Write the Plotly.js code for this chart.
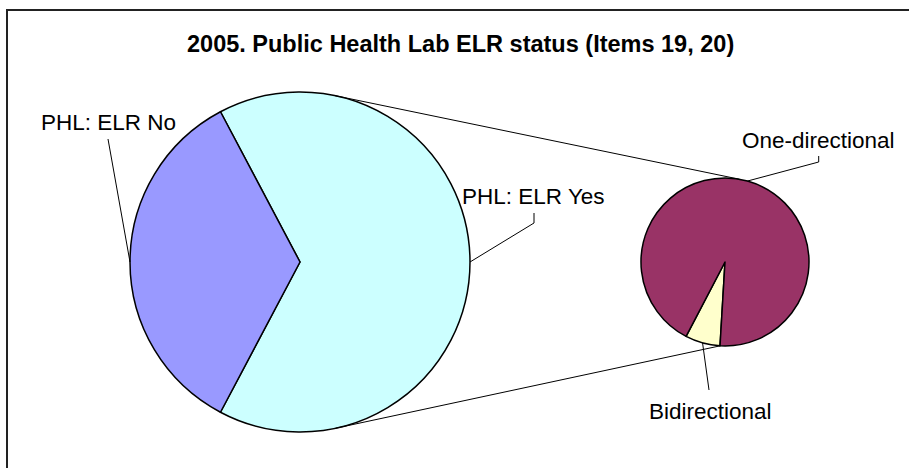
<!DOCTYPE html>
<html><head><meta charset="utf-8">
<script src="https://cdn.plot.ly/plotly-3.0.1.min.js"></script>
<style>html,body{margin:0;padding:0;background:#fff}#chart{width:909px;height:468px}</style>
</head><body><div id="chart"></div>
<script>
// ---- data ----
const chartTitle = '2005. Public Health Lab ELR status (Items 19, 20)';
const mainLabels = ['PHL: ELR Yes', 'PHL: ELR No'];
const mainValues = [65.5, 34.5];
const mainColors = ['#CCFFFF', '#9999FF'];
const subLabels = ['Bidirectional', 'One-directional'];
const subValues = [4.4, 61.1];
const subColors = ['#FFFFCC', '#993366'];

// ---- layout geometry ----
const W = 909, H = 468;
const mainPie = {cx: 300, cy: 262, r: 170};
const subPie = {cx: 725, cy: 262, r: 84};
const subRotation = 183.4;
const FONT = 'Arial, "Liberation Sans", sans-serif';

function px(x) { return x / W; }
function py(y) { return 1 - y / H; }
function domainOf(p) {
  return {x: [px(p.cx - p.r), px(p.cx + p.r)], y: [py(p.cy + p.r), py(p.cy - p.r)]};
}
function pointAt(p, deg) {
  const a = deg * Math.PI / 180;
  return [p.cx + p.r * Math.sin(a), p.cy - p.r * Math.cos(a)];
}
function tangentFrom(P, c, upper) {
  const dx = P[0] - c.cx, dy = P[1] - c.cy;
  const dist = Math.hypot(dx, dy);
  const base = Math.atan2(dy, dx);
  const off = Math.acos(c.r / dist);
  const a = upper ? base - off : base + off;
  return [c.cx + c.r * Math.cos(a), c.cy + c.r * Math.sin(a)];
}
function sum(a) { return a.reduce((s, v) => s + v, 0); }

const mainTotal = sum(mainValues);
const mainRotation = 90 - (mainValues[0] / mainTotal) * 180;
const subTotal = sum(subValues);

// mid angles of slices (clockwise from 12 o'clock)
function midAngles(values, rot) {
  const tot = sum(values); let cur = rot; const out = [];
  values.forEach(v => { const span = v / tot * 360; out.push(cur + span / 2); cur += span; });
  return out;
}
const mainMid = midAngles(mainValues, mainRotation);
const subMid = midAngles(subValues, subRotation);

const lineStyle = {color: '#000', width: 1};
const shapes = [];
function seg(a, b, style) {
  shapes.push({type: 'line', xref: 'paper', yref: 'paper',
    x0: px(a[0]), y0: py(a[1]), x1: px(b[0]), y1: py(b[1]), line: style || lineStyle});
}

// connector lines between pies
const subTop = pointAt(subPie, 10);
const subBottom = pointAt(subPie, subRotation);
seg(tangentFrom(subTop, mainPie, true), subTop);
seg(tangentFrom(subBottom, mainPie, false), subBottom);

// leader lines
seg([108, 139], pointAt(mainPie, mainMid[1]));
seg([534, 213], [534, 223]);
seg([534, 223], pointAt(mainPie, mainMid[0]));
seg([818.7, 156], [818.7, 162]);
seg([818.7, 162], pointAt(subPie, subMid[1]));
seg([709, 390], pointAt(subPie, subMid[0]));

// frame
shapes.push({type: 'rect', xref: 'paper', yref: 'paper',
  x0: px(7), y0: py(10), x1: px(920), y1: py(480),
  line: {color: '#222', width: 2}, fillcolor: 'rgba(0,0,0,0)'});

const labelFont = {family: FONT, size: 22.5, color: '#000'};
function label(text, x, y) {
  return {text: text, xref: 'paper', yref: 'paper', x: px(x), y: py(y),
    xanchor: 'center', yanchor: 'middle', showarrow: false, font: labelFont};
}
const annotations = [
  {text: '<b>' + chartTitle + '</b>', xref: 'paper', yref: 'paper', x: px(460), y: py(44),
   xanchor: 'center', yanchor: 'middle', showarrow: false,
   font: {family: FONT, size: 23.5, color: '#000'}},
  label(mainLabels[1], 108, 123),
  label(mainLabels[0], 533, 196),
  label(subLabels[1], 818, 140),
  label(subLabels[0], 710, 411)
];

const traces = [
  {type: 'pie', labels: mainLabels, values: mainValues, sort: false, direction: 'clockwise',
   rotation: mainRotation, domain: domainOf(mainPie), textinfo: 'none', hoverinfo: 'none',
   marker: {colors: mainColors, line: {color: '#000', width: 1.5}}, showlegend: false},
  {type: 'pie', labels: subLabels, values: subValues, sort: false, direction: 'clockwise',
   rotation: subRotation, domain: domainOf(subPie), textinfo: 'none', hoverinfo: 'none',
   marker: {colors: subColors, line: {color: '#000', width: 1.5}}, showlegend: false}
];

Plotly.newPlot('chart', traces, {
  width: W, height: H, margin: {l: 0, r: 0, t: 0, b: 0},
  paper_bgcolor: '#fff', plot_bgcolor: '#fff', showlegend: false,
  shapes: shapes, annotations: annotations
}, {staticPlot: true, displayModeBar: false});
</script></body></html>
